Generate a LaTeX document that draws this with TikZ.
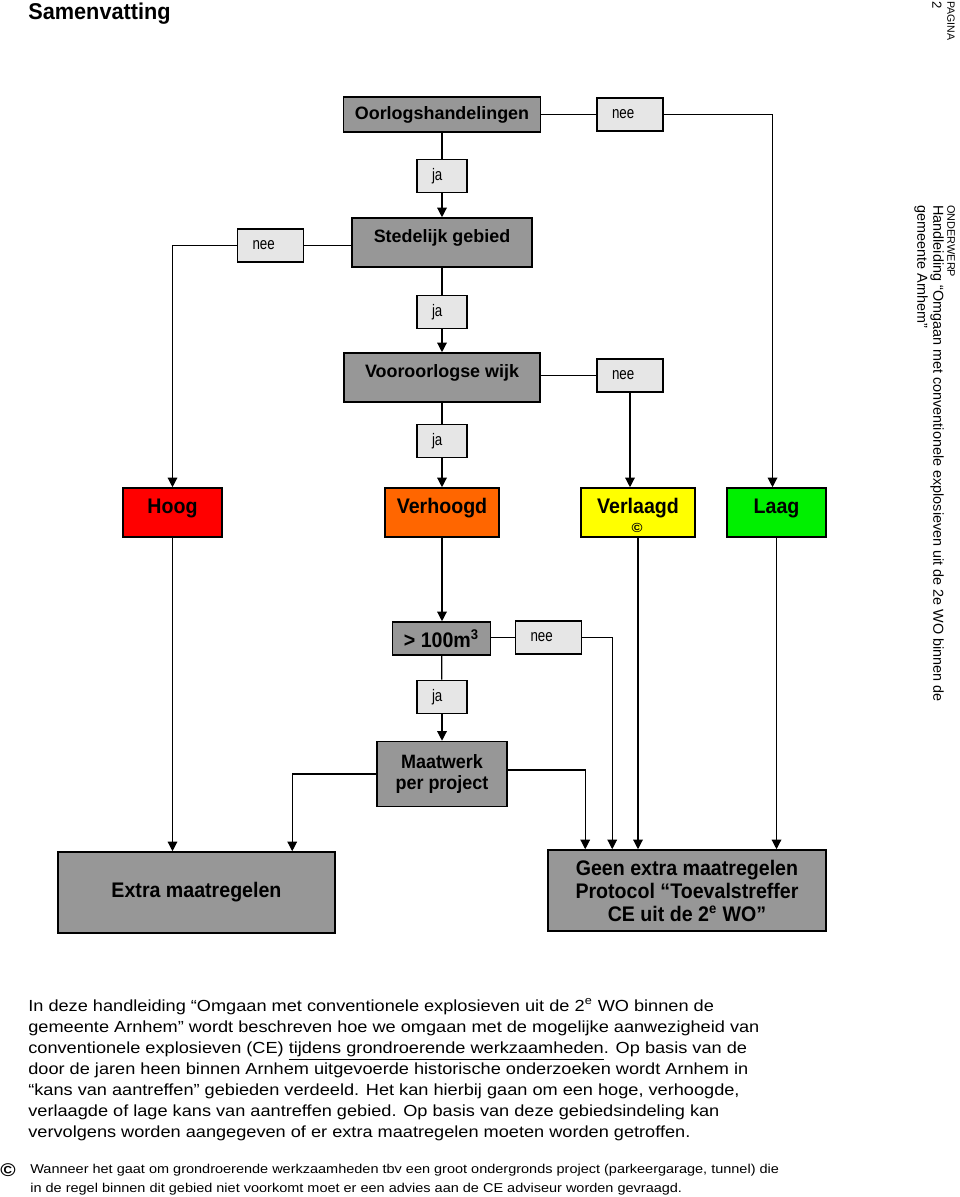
\documentclass[tikz,border=0pt]{standalone}
\usepackage{fontspec}
\setmainfont[FakeStretch=1.13]{Liberation Sans}
\newfontfamily\plainfont{Liberation Sans}
\newfontfamily\titlefont[FakeStretch=0.95]{Liberation Sans}
\newfontfamily\boxfont[FakeStretch=0.93]{Liberation Sans}
\newfontfamily\answerfont[FakeStretch=0.8]{Liberation Sans}
\usetikzlibrary{arrows.meta, calc}
\definecolor{boxgray}{HTML}{979797}
\definecolor{boxlight}{HTML}{E6E6E6}
\definecolor{hoogred}{HTML}{FF0000}
\definecolor{verhoogdorange}{HTML}{FF6600}
\definecolor{verlaagdyellow}{HTML}{FFFF00}
\definecolor{laaggreen}{HTML}{00F000}
\tikzset{
    box/.style={draw, line width=0.9pt, fill=boxgray, inner sep=0pt, align=center,
        font=\bfseries\fontsize{9}{12.5}\selectfont},
    question/.style={box, font=\plainfont\bfseries\fontsize{10.2}{12}\selectfont},
    outcome/.style={box, font=\boxfont\bfseries\fontsize{12}{13.1}\selectfont},
    level/.style={draw, line width=0.9pt, fill=#1, inner sep=0pt, align=center,
        minimum height=0.98cm, text depth=7pt, font=\boxfont\bfseries\fontsize{12}{13}\selectfont},
    answer/.style={draw, line width=0.9pt, fill=boxlight, text width=#1, align=left,
        inner xsep=0.3cm, inner ysep=0pt, minimum height=0.66cm,
        font=\answerfont\fontsize{9.5}{10}\selectfont},
    raised/.style={text depth=7pt},
    link/.style={line width=0.7pt},
    flow/.style={link, -{Triangle[length=5.5pt,width=5.5pt]}},
    sidetext/.style={rotate=-90, anchor=west, inner sep=0pt},
}

\begin{document}
\begin{tikzpicture}[x=0.02cm, y=-0.02cm]
    \useasboundingbox (0,0) rectangle (960,1197);

    \node[anchor=base west, inner sep=0pt, font=\titlefont\bfseries\fontsize{13}{15}\selectfont] (titel) at (28,19) {Samenvatting};
    \node[sidetext, font=\plainfont\fontsize{6}{7}\selectfont] (pagina) at (951,1) {PAGINA};
    \node[sidetext, font=\plainfont\fontsize{7.5}{9}\selectfont] (paginanr) at (937,1) {2};
    \node[sidetext, font=\plainfont\fontsize{6.2}{7}\selectfont] (onderwerp) at (951,205) {ONDERWERP};
    \node[sidetext, font=\plainfont\fontsize{8.2}{9}\selectfont] (handleiding) at (937,205) {Handleiding “Omgaan met conventionele explosieven uit de 2e WO binnen de};
    \node[sidetext, font=\plainfont\fontsize{8.2}{9}\selectfont] (gemeente) at (921,205) {gemeente Arnhem”};

    \node[question, minimum width=3.94cm, minimum height=0.7cm] (oorlog) at (442,114.5) {Oorlogshandelingen};
    \node[answer=0.72cm] (neeA) at (630,114.5) {nee};
    \node[answer=0.4cm] (jaA) at (442,176) {ja};
    \node[question, raised, minimum width=3.6cm, minimum height=0.98cm] (stedelijk) at (442,242.5) {Stedelijk gebied};
    \node[answer=0.72cm] (neeB) at (270.5,245.5) {nee};
    \node[answer=0.4cm] (jaB) at (442,312) {ja};
    \node[question, raised, minimum width=3.92cm, minimum height=0.98cm] (vooroorlog) at (442,377.5) {Vooroorlogse wijk};
    \node[answer=0.72cm] (neeC) at (630,375.5) {nee};
    \node[answer=0.4cm] (jaC) at (442,441) {ja};

    \node[level=hoogred, minimum width=1.98cm] (hoog) at (172.5,512.5) {Hoog};
    \node[level=verhoogdorange, minimum width=2.28cm] (verhoogd) at (442,512.5) {Verhoogd};
    \node[level=verlaagdyellow, minimum width=2.28cm] (verlaagd) at (638,512.5) {Verlaagd};
    \node[inner sep=0pt, font=\bfseries\fontsize{7.5}{8}\selectfont] (verlaagdnoot) at (637,527.5) {©};
    \node[level=laaggreen, minimum width=1.98cm] (laag) at (776.5,512.5) {Laag};

    \node[outcome, minimum width=1.96cm, minimum height=0.66cm] (volume) at (441.5,638.5) {> 100m\textsuperscript{3}};
    \node[answer=0.72cm] (neeD) at (548.5,637.5) {nee};
    \node[answer=0.4cm] (jaD) at (442,697) {ja};
    \node[outcome, minimum width=2.6cm, minimum height=1.3cm, font=\boxfont\bfseries\fontsize{11}{12.5}\selectfont] (maatwerk) at (442,774) {Maatwerk\\per project};

    \node[outcome, minimum width=5.54cm, minimum height=1.62cm] (extra) at (196.5,892.5) {Extra maatregelen};
    \node[outcome, minimum width=5.56cm, minimum height=1.62cm] (geen) at (687,890.5) {Geen extra maatregelen\\Protocol “Toevalstreffer\\CE uit de 2\textsuperscript{e} WO”};

    \coordinate (inMaatL) at ($(extra.north west)+(235,0)$);
    \coordinate (inMaatR) at ($(geen.north west)+(38,0)$);
    \coordinate (inNee) at ($(geen.north west)+(65,0)$);

    \draw[link] (oorlog) -- (neeA);
    \draw[flow] (neeA.east) -| ([xshift=-0.08cm]laag.north);
    \draw[link] (oorlog) -- (jaA);
    \draw[flow] (jaA) -- (stedelijk);
    \draw[link] (neeB.east) -- (neeB.east -| stedelijk.west);
    \draw[flow] (neeB.west) -| (hoog.north);
    \draw[link] (stedelijk) -- (jaB);
    \draw[flow] (jaB) -- (vooroorlog);
    \draw[link] (neeC.west) -- (neeC.west -| vooroorlog.east);
    \draw[flow] (neeC.south) -- (neeC.south |- verlaagd.north);
    \draw[link] (vooroorlog) -- (jaC);
    \draw[flow] (jaC) -- (verhoogd);
    \draw[flow] (verhoogd.south) -- (verhoogd.south |- volume.north);
    \draw[link] (neeD.west) -- (neeD.west -| volume.east);
    \draw[flow] (neeD.east) -| (inNee);
    \draw[link] (volume) -- (jaD);
    \draw[flow] (jaD) -- (maatwerk);
    \draw[flow] (maatwerk.west) -| (inMaatL);
    \draw[flow] ([yshift=0.08cm]maatwerk.east) -| (inMaatR);
    \draw[flow] (hoog.south) -- (hoog.south |- extra.north);
    \foreach \n in {verlaagd, laag}
        \draw[flow] (\n.south) -- (\n.south |- geen.north);

    \node[anchor=north west, inner sep=0pt, align=left, font=\fontsize{9.15}{11.95}\selectfont] (intro) at (28,998) {In deze handleiding “Omgaan met conventionele explosieven uit de 2\textsuperscript{e} WO binnen de\\
        gemeente Arnhem” wordt beschreven hoe we omgaan met de mogelijke aanwezigheid van\\
        conventionele explosieven (CE) \underline{tijdens grondroerende werkzaamheden}. Op basis van de\\
        door de jaren heen binnen Arnhem uitgevoerde historische onderzoeken wordt Arnhem in\\
        “kans van aantreffen” gebieden verdeeld. Het kan hierbij gaan om een hoge, verhoogde,\\
        verlaagde of lage kans van aantreffen gebied. Op basis van deze gebiedsindeling kan\\
        vervolgens worden aangegeven of er extra maatregelen moeten worden getroffen.};
    \node[anchor=base west, inner sep=0pt, font=\bfseries\fontsize{10.5}{11}\selectfont] (teken) at (0,1176) {©};
    \node[anchor=north west, inner sep=0pt, align=left, font=\fontsize{7.3}{10.8}\selectfont] (voetnoot) at (30,1164) {Wanneer het gaat om grondroerende werkzaamheden tbv een groot ondergronds project (parkeergarage, tunnel) die\\
        in de regel binnen dit gebied niet voorkomt moet er een advies aan de CE adviseur worden gevraagd.};
\end{tikzpicture}
\end{document}
